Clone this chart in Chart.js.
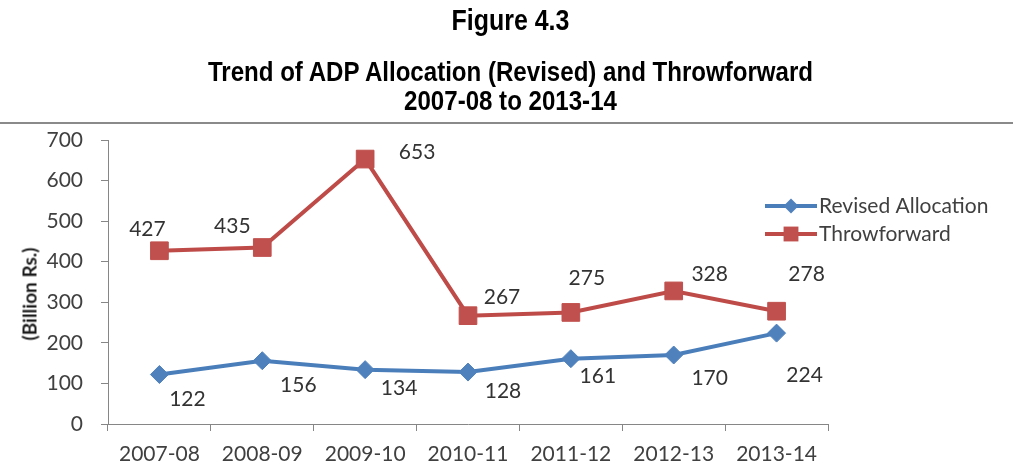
<!DOCTYPE html>
<html>
<head>
<meta charset="utf-8">
<script src="https://cdn.jsdelivr.net/npm/chart.js"></script>
<style>
  html, body { margin: 0; padding: 0; background: #fff; }
  #wrap { position: relative; width: 1013px; height: 476px; overflow: hidden; }
  .t {
    position: absolute; left: 4px; width: 1013px; text-align: center;
    font-family: "Liberation Sans Narrow", "Arial Narrow", "Liberation Sans", Arial, sans-serif;
    font-weight: bold; color: #000; white-space: nowrap; line-height: 1;
    transform: scaleX(0.86); transform-origin: 50% 50%;
  }
  #rule { position: absolute; left: 0; top: 122px; width: 1013px; height: 2px; background: #8a8a8a; }
  #ytitle {
    position: absolute; left: 29px; top: 294px; white-space: nowrap;
    transform: translate(-50%, -50%) rotate(-90deg);
    font-family: Lato, sans-serif; font-weight: bold; font-size: 19px; color: #1a1a1a;
  }
  canvas { position: absolute; left: 0; top: 0; }
</style>
</head>
<body>
<div id="wrap">
  <canvas id="chart" width="1013" height="476"></canvas>
  <div class="t" style="top:6px;font-size:29px;">Figure 4.3</div>
  <div class="t" style="top:58px;font-size:28px;">Trend of ADP Allocation (Revised) and Throwforward</div>
  <div class="t" style="top:87px;font-size:28px;">2007-08 to 2013-14</div>
  <div id="rule"></div>
  <div id="ytitle">(Billion Rs.)</div>
</div>
<script>
const years = ["2007-08", "2008-09", "2009-10", "2010-11", "2011-12", "2012-13", "2013-14"];
const revisedAllocation = [122, 156, 134, 128, 161, 170, 224];
const throwforward = [427, 435, 653, 267, 275, 328, 278];
const seriesNames = ["Revised Allocation", "Throwforward"];

const labelFont = "21px Lato, sans-serif";

// value labels next to each marker (offsets picked to sit like the original)
const pointLabels = {
    id: 'pointLabels',
    afterDatasetsDraw(chart, args, opts) {
        const ctx = chart.ctx;
        ctx.save();
        ctx.font = labelFont;
        ctx.fillStyle = '#333';
        ctx.textAlign = 'center';
        ctx.textBaseline = 'middle';
        chart.data.datasets.forEach((ds, i) => {
            const meta = chart.getDatasetMeta(i);
            meta.data.forEach((pt, j) => {
                const off = opts.offsets[i][j];
                ctx.fillText(String(ds.data[j]), pt.x + off[0], pt.y + off[1]);
            });
        });
        ctx.restore();
    }
};

function marker(ctx, style, x, y, r) {
    ctx.beginPath();
    if (style === 'rect') {
        const s = r * Math.SQRT1_2;
        ctx.rect(x - s, y - s, 2 * s, 2 * s);
    } else {
        ctx.moveTo(x - r, y);
        ctx.lineTo(x, y - r);
        ctx.lineTo(x + r, y);
        ctx.lineTo(x, y + r);
        ctx.closePath();
    }
    ctx.fill();
}

// legend drawn at the right, line + marker like the spreadsheet legend
const sideLegend = {
    id: 'sideLegend',
    afterDraw(chart, args, opts) {
        const ctx = chart.ctx;
        ctx.save();
        chart.data.datasets.forEach((ds, i) => {
            const y = opts.y + i * opts.gap;
            ctx.strokeStyle = ds.borderColor;
            ctx.lineWidth = 4;
            ctx.beginPath();
            ctx.moveTo(opts.x, y);
            ctx.lineTo(opts.x + 52, y);
            ctx.stroke();
            ctx.fillStyle = ds.pointBackgroundColor;
            marker(ctx, ds.pointStyle, opts.x + 26, y, ds.pointStyle === 'rect' ? 10.5 : 7.5);
            ctx.font = labelFont;
            ctx.fillStyle = '#404040';
            ctx.textAlign = 'left';
            ctx.textBaseline = 'middle';
            ctx.fillText(ds.label, opts.x + 54, y);
        });
        ctx.restore();
    }
};

new Chart(document.getElementById("chart"), {
    type: 'line',
    data: {
        labels: years,
        datasets: [{
            label: seriesNames[0],
            data: revisedAllocation,
            borderColor: '#4A7EBB',
            backgroundColor: '#4F81BD',
            pointBackgroundColor: '#4F81BD',
            pointBorderColor: '#4F81BD',
            pointStyle: 'rectRot',
            pointRadius: 9,
            pointBorderWidth: 1,
            borderWidth: 4,
            tension: 0,
            clip: false
        }, {
            label: seriesNames[1],
            data: throwforward,
            borderColor: '#BE4B48',
            backgroundColor: '#C0504D',
            pointBackgroundColor: '#C0504D',
            pointBorderColor: '#C0504D',
            pointStyle: 'rect',
            pointRadius: 12.5,
            pointBorderWidth: 1,
            borderWidth: 4,
            tension: 0,
            clip: false
        }]
    },
    options: {
        responsive: false,
        animation: false,
        layout: {
            padding: { left: 0, top: 140, right: 185, bottom: 0 }
        },
        scales: {
            x: {
                offset: true,
                afterFit(scale) { scale.height = 52; },
                grid: {
                    offset: true,
                    drawOnChartArea: false,
                    drawTicks: true,
                    tickLength: 7,
                    color: '#868686'
                },
                border: { display: true, color: '#868686', width: 1 },
                ticks: {
                    font: { family: 'Lato', size: 21 },
                    color: '#404040',
                    padding: 11,
                    maxRotation: 0,
                    autoSkip: false
                }
            },
            y: {
                min: 0,
                max: 700,
                afterFit(scale) { scale.width = 108; },
                grid: {
                    drawOnChartArea: false,
                    drawTicks: true,
                    tickLength: 7,
                    color: '#868686'
                },
                border: { display: true, color: '#868686', width: 1 },
                ticks: {
                    stepSize: 100,
                    font: { family: 'Lato', size: 21 },
                    color: '#404040',
                    padding: 18
                }
            }
        },
        plugins: {
            legend: { display: false },
            tooltip: { enabled: false },
            pointLabels: {
                offsets: [
                    [[28, 25], [36, 25], [34, 19], [35, 19], [27, 18], [36, 23], [28, 42]],
                    [[-12, -22], [-30, -21], [52, -7], [34, -18], [16, -34], [36, -17], [30, -37]]
                ]
            },
            sideLegend: { x: 765, y: 206, gap: 28 }
        }
    },
    plugins: [pointLabels, sideLegend]
});
</script>
</body>
</html>
